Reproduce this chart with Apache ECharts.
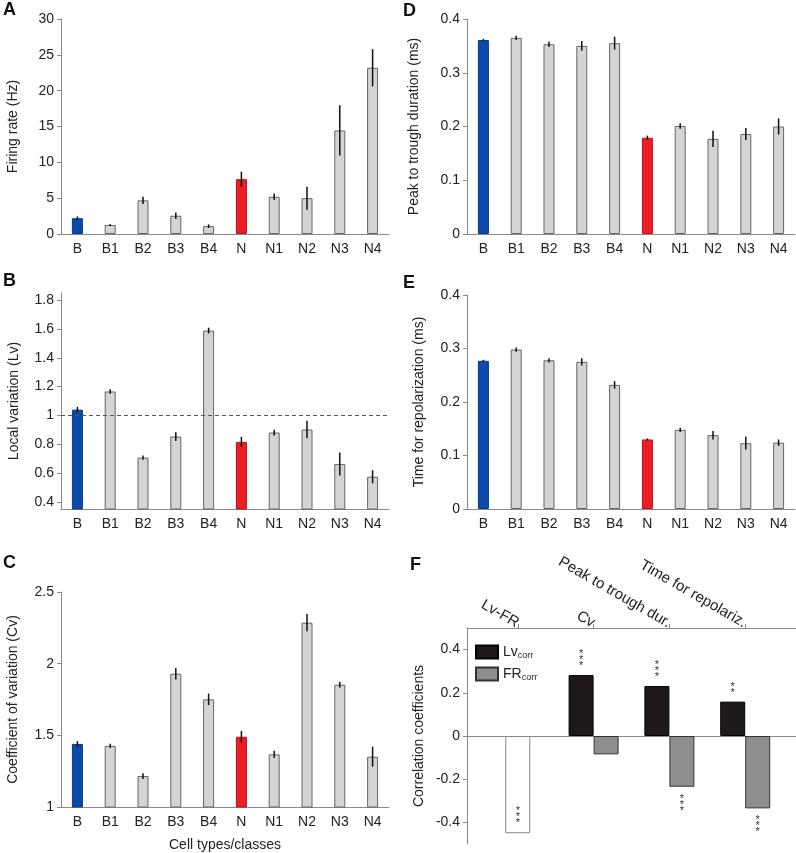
<!DOCTYPE html>
<html>
<head>
<meta charset="utf-8">
<script src="https://cdn.jsdelivr.net/npm/echarts@6/dist/echarts.min.js"></script>
<style>
  html, body { margin: 0; padding: 0; background: #fff; }
  #chart { width: 796px; height: 853px; }
</style>
</head>
<body>
<div id="chart"></div>
<script>
// categories
var cellTypes = ['B', 'B1', 'B2', 'B3', 'B4', 'N', 'N1', 'N2', 'N3', 'N4'];

// A: firing rate (Hz)
var firingRate = [2.2, 1.25, 4.7, 2.55, 1.1, 7.65, 5.2, 5.0, 14.45, 23.2];
var firingRateErr = [0.25, 0.15, 0.5, 0.45, 0.25, 1.05, 0.45, 1.6, 3.5, 2.6];

// B: local variation
var localVar = [1.04, 1.166, 0.707, 0.853, 1.589, 0.816, 0.881, 0.902, 0.662, 0.574];
var localVarErr = [0.02, 0.015, 0.015, 0.03, 0.02, 0.035, 0.02, 0.06, 0.08, 0.045];

// C: coefficient of variation
var coefVar = [1.44, 1.426, 1.216, 1.93, 1.751, 1.49, 1.367, 2.286, 1.853, 1.351];
var coefVarErr = [0.02, 0.015, 0.02, 0.04, 0.04, 0.04, 0.025, 0.06, 0.02, 0.07];

// D: peak to trough (ms)
var peakTrough = [0.361, 0.365, 0.353, 0.350, 0.355, 0.179, 0.201, 0.177, 0.186, 0.200];
var peakTroughErr = [0.002, 0.004, 0.005, 0.009, 0.012, 0.004, 0.005, 0.015, 0.011, 0.015];

// E: time for repolarization (ms)
var repol = [0.277, 0.298, 0.278, 0.275, 0.232, 0.130, 0.148, 0.138, 0.123, 0.124];
var repolErr = [0.002, 0.004, 0.004, 0.007, 0.007, 0.002, 0.004, 0.008, 0.012, 0.006];

// F: correlation coefficients
var corrCats = ['Lv-FR', 'Cv', 'Peak to trough dur.', 'Time for repolariz.'];
var lvFrCorr = [-0.45];
var lvCorr = [0.282, 0.231, 0.159];      // Cv, peak-trough, repol
var frCorr = [-0.085, -0.235, -0.335];
var lvStars = ['***', '***', '**'];
var frStars = ['', '***', '***'];

var FONT = 'Liberation Sans, Arial, sans-serif';
var AXIS_COLOR = '#8a8a8a';

function barColor(i) {
  if (i === 0) return '#0b4aa8';
  if (i === 5) return '#ee1c25';
  return '#d4d4d4';
}
function barBorder(i) {
  if (i === 0) return '#0a3a86';
  if (i === 5) return '#b5161c';
  return '#666';
}

function errRender(params, api) {
  var lo = api.coord([api.value(0), api.value(1)]);
  var hi = api.coord([api.value(0), api.value(2)]);
  return {
    type: 'line',
    shape: { x1: lo[0], y1: lo[1], x2: hi[0], y2: hi[1] },
    style: { stroke: '#111', lineWidth: 1.5 }
  };
}

var grids = [
  { left: 61, top: 19, width: 328, height: 215 },   // A
  { left: 61, top: 293, width: 328, height: 216 },  // B
  { left: 61, top: 592, width: 328, height: 215 },  // C
  { left: 467, top: 19, width: 328, height: 215 },  // D
  { left: 467, top: 295, width: 328, height: 214 }, // E
  { left: 467, top: 628, width: 329, height: 216 }  // F
].map(function (g) {
  g.outerBoundsMode = 'none';
  g.containLabel = false;
  return g;
});

var panels = [
  { name: 'Firing rate (Hz)', mean: firingRate, err: firingRateErr, min: 0, max: 30, interval: 5, gap: 41 },
  { name: 'Local variation (Lv)', mean: localVar, err: localVarErr, min: 0.35, max: 1.85,
    ticks: [0.4, 0.6, 0.8, 1, 1.2, 1.4, 1.6, 1.8], gap: 40 },
  { name: 'Coefficient of variation (Cv)', mean: coefVar, err: coefVarErr, min: 1, max: 2.5, interval: 0.5, gap: 41 },
  { name: 'Peak to trough duration (ms)', mean: peakTrough, err: peakTroughErr, min: 0, max: 0.4, interval: 0.1, gap: 46 },
  { name: 'Time for repolarization (ms)', mean: repol, err: repolErr, min: 0, max: 0.4, interval: 0.1, gap: 41 }
];

var xAxes = [], yAxes = [], series = [];

panels.forEach(function (p, gi) {
  xAxes.push({
    type: 'category', gridIndex: gi, data: cellTypes,
    name: gi === 2 ? 'Cell types/classes' : '',
    nameLocation: 'middle', nameGap: 31,
    nameTextStyle: { fontFamily: FONT, fontSize: 14, color: '#222' },
    axisLine: { lineStyle: { color: AXIS_COLOR, width: 1 } },
    axisTick: { alignWithLabel: true, length: 3, lineStyle: { color: AXIS_COLOR } },
    axisLabel: { fontFamily: FONT, fontSize: 14, color: '#222', margin: 8 }
  });
  var y = {
    type: 'value', gridIndex: gi, min: p.min, max: p.max,
    name: p.name, nameLocation: 'middle', nameGap: p.gap,
    nameTextStyle: { fontFamily: FONT, fontSize: 14, color: '#222' },
    axisLine: { show: true, lineStyle: { color: AXIS_COLOR, width: 1 } },
    axisTick: { show: true, length: 4, lineStyle: { color: AXIS_COLOR } },
    axisLabel: { fontFamily: FONT, fontSize: 14, color: '#222', margin: 7 },
    splitLine: { show: false }
  };
  if (p.ticks) {
    y.axisLabel.customValues = p.ticks;
    y.axisTick.customValues = p.ticks;
  } else {
    y.interval = p.interval;
  }
  yAxes.push(y);

  var barSeries = {
    type: 'bar', xAxisIndex: gi, yAxisIndex: gi, barWidth: 11,
    data: p.mean.map(function (v, i) {
      return { value: v, itemStyle: { color: barColor(i), borderColor: barBorder(i), borderWidth: 1 } };
    }),
    silent: true
  };
  if (gi === 1) {
    barSeries.markLine = {
      silent: true, symbol: 'none', label: { show: false },
      lineStyle: { type: [4, 3], color: '#555', width: 1 },
      data: [{ yAxis: 1 }]
    };
  }
  series.push(barSeries);
  series.push({
    type: 'custom', xAxisIndex: gi, yAxisIndex: gi, renderItem: errRender, silent: true,
    data: p.mean.map(function (v, i) { return [i, v - p.err[i], v + p.err[i]]; }),
    z: 5
  });
});

// panel F
var corrTicks = [1, 2, 3, 4];
xAxes.push({
  type: 'value', gridIndex: 5, position: 'top', min: 0.33, max: 4.67,
  axisLine: { onZero: false, lineStyle: { color: AXIS_COLOR, width: 1 } },
  axisTick: { show: true, customValues: corrTicks, length: 4, lineStyle: { color: AXIS_COLOR } },
  axisLabel: {
    customValues: corrTicks, rotate: 30, margin: 4, hideOverlap: false,
    fontFamily: FONT, fontSize: 15, color: '#222',
    formatter: function (v) { return corrCats[Math.round(v) - 1]; }
  },
  splitLine: { show: false }
});
xAxes.push({
  type: 'value', gridIndex: 5, position: 'bottom', min: 0.33, max: 4.67,
  axisLine: { onZero: true, lineStyle: { color: AXIS_COLOR, width: 1 } },
  axisTick: { show: false }, axisLabel: { show: false }, splitLine: { show: false }
});
var corrYTicks = [-0.4, -0.2, 0, 0.2, 0.4];
yAxes.push({
  type: 'value', gridIndex: 5, min: -0.5, max: 0.5,
  name: 'Correlation coefficients', nameLocation: 'middle', nameGap: 41,
  nameTextStyle: { fontFamily: FONT, fontSize: 14, color: '#222' },
  axisLine: { show: true, lineStyle: { color: AXIS_COLOR, width: 1 } },
  axisTick: { show: true, customValues: corrYTicks, length: 4, lineStyle: { color: AXIS_COLOR } },
  axisLabel: { customValues: corrYTicks, fontFamily: FONT, fontSize: 14, color: '#222', margin: 7 },
  splitLine: { show: false }
});

var starLabel = { fontFamily: FONT, fontSize: 11, lineHeight: 6, color: '#333' };
function stack(s) { return s.split('').join('\n'); }

series.push({
  name: 'Lv', type: 'bar', xAxisIndex: 5, yAxisIndex: 5, barWidth: 25, barGap: '0%',
  itemStyle: { color: '#1e1818', borderColor: '#000', borderWidth: 1 },
  data: lvCorr.map(function (v, i) {
    return { value: [i + 2, v], label: Object.assign({ show: true, position: 'top', distance: 6,
      formatter: stack(lvStars[i]) }, starLabel) };
  }),
  silent: true
});
series.push({
  name: 'FR', type: 'bar', xAxisIndex: 5, yAxisIndex: 5, barWidth: 25, barGap: '0%',
  itemStyle: { color: '#8e8e8e', borderColor: '#333', borderWidth: 1 },
  data: frCorr.map(function (v, i) {
    return { value: [i + 2, v], label: Object.assign({ show: !!frStars[i], position: 'bottom', distance: 9,
      formatter: stack(frStars[i] || ' ') }, starLabel) };
  }),
  silent: true
});
series.push({
  name: 'Lv-FR', type: 'bar', xAxisIndex: 6, yAxisIndex: 5, barWidth: 25,
  itemStyle: { color: '#fff', borderColor: '#888', borderWidth: 1 },
  data: lvFrCorr.map(function (v, i) {
    return { value: [i + 1, v], label: Object.assign({ show: true, position: 'insideBottom', distance: 7,
      formatter: stack('***') }, starLabel) };
  }),
  silent: true
});

var letters = [['A', 3, 1], ['B', 3, 272], ['C', 3, 554], ['D', 403, 2], ['E', 403, 274], ['F', 410, 556]];

var option = {
  animation: false,
  textStyle: { fontFamily: FONT },
  title: letters.map(function (l) {
    return { text: l[0], left: l[1], top: l[2], padding: 0,
      textStyle: { fontFamily: FONT, fontSize: 18, fontWeight: 'bold', color: '#111' } };
  }),
  legend: {
    data: ['Lv', 'FR'], orient: 'vertical', left: 470, top: 639,
    itemWidth: 22, itemHeight: 13, itemGap: 6, icon: 'rect', selectedMode: false,
    formatter: function (name) { return '{m|' + name + '}{s|corr}'; },
    textStyle: {
      color: '#222',
      rich: {
        m: { fontFamily: FONT, fontSize: 14, lineHeight: 16 },
        s: { fontFamily: FONT, fontSize: 9, lineHeight: 16, padding: [7, 0, 0, 0] }
      }
    }
  },
  grid: grids,
  xAxis: xAxes,
  yAxis: yAxes,
  series: series
};

var chart = echarts.init(document.getElementById('chart'), null, { renderer: 'canvas' });
chart.setOption(option);
</script>
</body>
</html>
